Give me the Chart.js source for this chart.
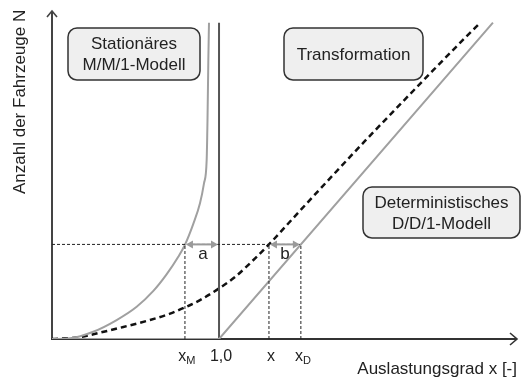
<!DOCTYPE html>
<html>
<head>
<meta charset="utf-8">
<script src="https://cdn.jsdelivr.net/npm/chart.js@4"></script>
<style>
  html, body { margin: 0; padding: 0; background: #fff; }
  #wrap { width: 522px; height: 378px; position: relative; }
</style>
</head>
<body>
<div id="wrap"><canvas id="c"></canvas></div>
<script>
// Stationäres M/M/1-Modell: Auslastungsgrad x and Anzahl N
const mm1X = [0, 0.108, 0.247, 0.387, 0.507, 0.607, 0.687, 0.756, 0.796, 0.846, 0.886, 0.910, 0.926, 0.931, 0.936, 0.940];
const mm1N = [0, 0.022, 0.23, 0.60, 1.02, 1.52, 2.05, 2.60, 2.98, 3.64, 4.29, 4.92, 5.66, 6.92, 8.82, 10.0];

// Transformationskurve (gestrichelt)
const trX = [0, 0.168, 0.287, 0.427, 0.587, 0.707, 0.796, 0.886, 1.006, 1.096, 1.216, 1.299, 1.475, 1.675, 1.874, 2.074, 2.274, 2.473, 2.565];
const trN = [0, 0.06, 0.20, 0.38, 0.60, 0.80, 1.00, 1.23, 1.62, 1.96, 2.55, 2.99, 4.00, 5.14, 6.26, 7.36, 8.45, 9.52, 10.0];

// Deterministisches D/D/1-Modell
const ddX = [0, 1.0, 2.64];
const ddN = [0, 0, 10.0];

// Kapazitätsgrenze x = 1,0
const capX = [1.0, 1.0];
const capN = [0, 10.0];

// Betrachtete Fahrzeuganzahl und zugehörige Auslastungsgrade
const nLevel = 2.99;
const xM = 0.796;
const xOp = 1.299;
const xD = 1.49;

// Achsbeschriftungen
const tickValues = [xM, 1.0, xOp, xD];
const tickMain = ['x', '1,0', 'x', 'x'];
const tickSub = ['M', '', '', 'D'];
const xTitle = 'Auslastungsgrad x [-]';
const yTitle = 'Anzahl der Fahrzeuge N';
const boxMM1 = ['Stationäres', 'M/M/1-Modell'];
const boxTrans = ['Transformation'];
const boxDD1 = ['Deterministisches', 'D/D/1-Modell'];
const gapLabels = ['a', 'b'];

const FONT = "'Liberation Sans', Arial, Helvetica, sans-serif";
const TEXT = '#222';
const GRAY = '#a0a0a0';

const pts = (xs, ys) => xs.map((v, i) => ({ x: v, y: ys[i] }));

function arrow(ctx, x1, x2, y, color) {
  const h = 7, w = 4;
  ctx.save();
  ctx.strokeStyle = color; ctx.fillStyle = color; ctx.lineWidth = 2;
  ctx.beginPath(); ctx.moveTo(x1 + h - 1, y); ctx.lineTo(x2 - h + 1, y); ctx.stroke();
  ctx.beginPath(); ctx.moveTo(x1, y); ctx.lineTo(x1 + h, y - w); ctx.lineTo(x1 + h, y + w); ctx.closePath(); ctx.fill();
  ctx.beginPath(); ctx.moveTo(x2, y); ctx.lineTo(x2 - h, y - w); ctx.lineTo(x2 - h, y + w); ctx.closePath(); ctx.fill();
  ctx.restore();
}

function textBox(ctx, x, y, w, h, lines, lineGap) {
  ctx.save();
  ctx.beginPath();
  ctx.roundRect(x, y, w, h, 9);
  ctx.fillStyle = '#efefef';
  ctx.fill();
  ctx.lineWidth = 1.5;
  ctx.strokeStyle = '#333';
  ctx.stroke();
  ctx.fillStyle = TEXT;
  ctx.font = '17px ' + FONT;
  ctx.textAlign = 'center';
  ctx.textBaseline = 'middle';
  const cx = x + w / 2, cy = y + h / 2;
  const top = cy - (lines.length - 1) * lineGap / 2;
  lines.forEach((t, i) => ctx.fillText(t, cx, top + i * lineGap + 1));
  ctx.restore();
}

const axesPlugin = {
  id: 'axesPlugin',
  beforeDatasetsDraw(chart) {
    const { ctx, chartArea: a } = chart;
    ctx.save();
    ctx.lineCap = 'butt';
    // y-Achse mit Pfeil
    ctx.strokeStyle = '#444'; ctx.lineWidth = 2;
    ctx.beginPath(); ctx.moveTo(a.left, a.bottom + 1); ctx.lineTo(a.left, a.top + 1); ctx.stroke();
    ctx.lineWidth = 1.6;
    ctx.beginPath(); ctx.moveTo(a.left - 5, a.top + 7); ctx.lineTo(a.left, a.top + 1); ctx.lineTo(a.left + 5, a.top + 7); ctx.stroke();
    // x-Achse mit Pfeil
    ctx.strokeStyle = '#333'; ctx.lineWidth = 2;
    ctx.beginPath(); ctx.moveTo(a.left - 1, a.bottom); ctx.lineTo(a.right - 1, a.bottom); ctx.stroke();
    ctx.lineWidth = 1.6;
    ctx.beginPath(); ctx.moveTo(a.right - 8, a.bottom - 6); ctx.lineTo(a.right - 1, a.bottom); ctx.lineTo(a.right - 8, a.bottom + 6); ctx.stroke();
    ctx.restore();
  },
  afterDraw(chart) {
    const { ctx, chartArea: a, scales: { x, y } } = chart;
    ctx.save();
    // Abstände a und b
    const yl = y.getPixelForValue(nLevel);
    arrow(ctx, x.getPixelForValue(xM) + 1, x.getPixelForValue(1.0) - 1, yl, '#9a9a9a');
    arrow(ctx, x.getPixelForValue(xOp) + 1, x.getPixelForValue(xD) - 1, yl, '#9a9a9a');
    ctx.fillStyle = TEXT;
    ctx.font = '17px ' + FONT;
    ctx.textAlign = 'center';
    ctx.textBaseline = 'alphabetic';
    ctx.fillText(gapLabels[0], (x.getPixelForValue(xM) + x.getPixelForValue(1.0)) / 2 + 1, yl + 15);
    ctx.fillText(gapLabels[1], (x.getPixelForValue(xOp) + x.getPixelForValue(xD)) / 2, yl + 15);

    // Tick-Beschriftungen mit Index
    tickValues.forEach((v, i) => {
      const px = x.getPixelForValue(v) + 2;
      ctx.font = '16px ' + FONT;
      const wMain = ctx.measureText(tickMain[i]).width;
      ctx.font = '11px ' + FONT;
      const wSub = tickSub[i] ? ctx.measureText(tickSub[i]).width : 0;
      const left = px - (wMain + wSub) / 2;
      ctx.textAlign = 'left';
      ctx.font = '16px ' + FONT;
      ctx.fillText(tickMain[i], left, a.bottom + 22);
      if (tickSub[i]) {
        ctx.font = '11px ' + FONT;
        ctx.fillText(tickSub[i], left + wMain, a.bottom + 25);
      }
    });

    // Achsentitel
    ctx.font = '17px ' + FONT;
    ctx.textAlign = 'right';
    ctx.fillText(xTitle, 517, 374);
    ctx.save();
    ctx.translate(25, 194);
    ctx.rotate(-Math.PI / 2);
    ctx.textAlign = 'left';
    ctx.fillText(yTitle, 0, 0);
    ctx.restore();

    // Modellbeschriftungen
    textBox(ctx, 68, 28, 132, 52, boxMM1, 21);
    textBox(ctx, 284, 28, 139, 52, boxTrans, 21);
    textBox(ctx, 363, 187, 157, 51, boxDD1, 21);
    ctx.restore();
  }
};

const dotted = { borderColor: '#222', borderWidth: 1, borderDash: [3, 2], pointRadius: 0, tension: 0, fill: false };

new Chart(document.getElementById('c'), {
  type: 'line',
  data: {
    datasets: [
      { ...dotted, data: pts([0, xD], [nLevel, nLevel]) },
      { ...dotted, data: pts([xM, xM], [0, nLevel]) },
      { ...dotted, data: pts([xOp, xOp], [0, nLevel]) },
      { ...dotted, data: pts([xD, xD], [0, nLevel]) },
      { data: pts(ddX, ddN), borderColor: GRAY, borderWidth: 2, pointRadius: 0, tension: 0 },
      { data: pts(capX, capN), borderColor: '#555', borderWidth: 2, pointRadius: 0, tension: 0 },
      { data: pts(mm1X, mm1N), borderColor: GRAY, borderWidth: 2, pointRadius: 0, cubicInterpolationMode: 'monotone' },
      { data: pts(trX, trN), borderColor: '#111', borderWidth: 2.5, borderDash: [6, 4], pointRadius: 0, cubicInterpolationMode: 'monotone' }
    ]
  },
  options: {
    responsive: true,
    maintainAspectRatio: false,
    animation: false,
    layout: { padding: { left: 52, right: 4, top: 10, bottom: 39 } },
    plugins: { legend: { display: false }, tooltip: { enabled: false } },
    scales: {
      x: { type: 'linear', min: 0, max: 2.79, display: false },
      y: { type: 'linear', min: 0, max: 10.4, display: false }
    },
    elements: { line: { borderCapStyle: 'butt' } }
  },
  plugins: [axesPlugin]
});
</script>
</body>
</html>
